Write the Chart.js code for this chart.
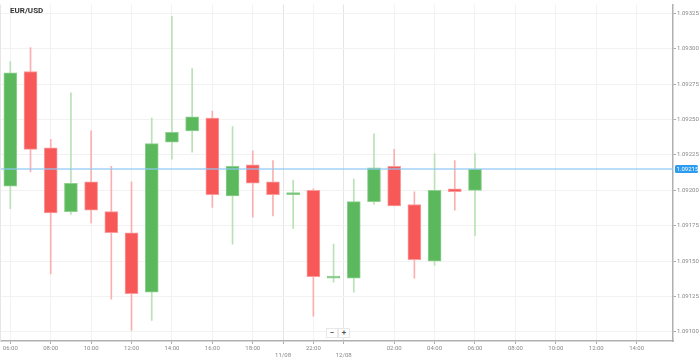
<!DOCTYPE html>
<html><head><meta charset="utf-8">
<script src="https://cdn.jsdelivr.net/npm/chart.js@4.4.1/dist/chart.umd.min.js"></script>
<style>
html,body{margin:0;padding:0;background:#fff;}
#wrap{position:relative;width:699px;height:360px;overflow:hidden;}
#title{position:absolute;left:10px;top:6px;font:bold 8px Roboto,sans-serif;color:#333;}
.zb{position:absolute;top:328px;width:10px;height:8px;background:#fff;border:1px solid #e8e8e8;font:bold 8px/8px Roboto,sans-serif;color:#555;text-align:center;}
</style></head><body>
<div id="wrap"><canvas id="c" width="699" height="360"></canvas><div id="title">EUR/USD</div><div class="zb" style="left:326px">−</div><div class="zb" style="left:338px">+</div></div>
<script>
// Hourly candles (index positions along the time axis)
const candleIndex = [0,1,2,3,4,5,6,7,8,9,10,11,12,13,14,15,16,17,18,19,20,21,22,23];
const opens  = [1.09203,1.09284,1.09230,1.09185,1.09206,1.09185,1.09170,1.09128,1.09234,1.09242,1.09251,1.09196,1.09218,1.09206,1.09197,1.09200,1.09138,1.09138,1.09192,1.09217,1.09190,1.09150,1.09201,1.09200];
const highs  = [1.09291,1.09301,1.09236,1.09269,1.09242,1.09217,1.09206,1.09251,1.09323,1.09286,1.09256,1.09245,1.09228,1.09221,1.09207,1.09201,1.09162,1.09208,1.09240,1.09229,1.09199,1.09226,1.09221,1.09226];
const lows   = [1.09187,1.09213,1.09141,1.09183,1.09177,1.09123,1.09101,1.09108,1.09222,1.09227,1.09188,1.09162,1.09181,1.09182,1.09173,1.09111,1.09135,1.09128,1.09190,1.09189,1.09138,1.09147,1.09186,1.09168];
const closes = [1.09283,1.09229,1.09184,1.09205,1.09186,1.09170,1.09127,1.09233,1.09241,1.09252,1.09197,1.09217,1.09205,1.09197,1.09198,1.09139,1.09139,1.09192,1.09216,1.09189,1.09151,1.09200,1.09199,1.09215];
const currentPrice = 1.09215;

// Axis ticks
const xTickPos    = [0,2,4,6,8,10,12,13.5,15,16.5,19,21,23,25,27,29,31];
const xTickLabels = ['06:00','08:00','10:00','12:00','14:00','16:00','18:00','11/08','22:00','12/08','02:00','04:00','06:00','08:00','10:00','12:00','14:00'];
const yTicks = [1.09100,1.09125,1.09150,1.09175,1.09200,1.09225,1.09250,1.09275,1.09300,1.09325];

const UP = '#5cb85c', DOWN = '#f75959';
const UP_B = '#8fd08f', DOWN_B = '#fb9a9a';
const UP_W = '#b9e2b6', DOWN_W = '#fab0b0';
const isUp = i => closes[i] >= opens[i];

const bodies = candleIndex.map(i => ({x: i, y: [opens[i], closes[i]]}));
const wicks  = candleIndex.map(i => ({x: i, y: [lows[i], highs[i]]}));

const pricePlugin = {
  id: 'price',
  afterDatasetsDraw(chart) {
    const {ctx, chartArea, scales} = chart;
    const y = scales.y.getPixelForValue(currentPrice);
    ctx.save();
    ctx.strokeStyle = 'rgba(140,200,245,0.8)';
    ctx.lineWidth = 1.5;
    ctx.beginPath(); ctx.moveTo(chartArea.left, y); ctx.lineTo(chartArea.right, y); ctx.stroke();
    ctx.restore();
  },
  afterDraw(chart) {
    const {ctx, chartArea, scales} = chart;
    const y = scales.y.getPixelForValue(currentPrice);
    ctx.save();
    ctx.fillStyle = '#2d9cf0';
    const x0 = chartArea.right + 2, w = 23, h = 8;
    ctx.beginPath();
    if (ctx.roundRect) ctx.roundRect(x0, y - h/2, w, h, 1.5); else ctx.rect(x0, y - h/2, w, h);
    ctx.fill();
    ctx.fillStyle = '#fff';
    ctx.font = '6px Roboto';
    ctx.textBaseline = 'middle';
    ctx.textAlign = 'left';
    ctx.fillText(currentPrice.toFixed(5), x0 + 1.5, y + 0.5);
    // left border of plot
    ctx.strokeStyle = '#e6e6e6';
    ctx.lineWidth = 1;
    ctx.beginPath(); ctx.moveTo(chartArea.left + 0.5, chartArea.top); ctx.lineTo(chartArea.left + 0.5, chartArea.bottom); ctx.stroke();
    ctx.restore();
  }
};

new Chart(document.getElementById('c'), {
  type: 'bar',
  data: {
    datasets: [
      { label: 'body', data: bodies, grouped: false, barThickness: 13, minBarLength: 2,
        backgroundColor: candleIndex.map(i => isUp(i) ? UP : DOWN),
        borderColor: candleIndex.map(i => isUp(i) ? UP_B : DOWN_B),
        borderWidth: 1, borderSkipped: false, order: 0 },
      { label: 'wick', data: wicks, grouped: false, barThickness: 1,
        backgroundColor: candleIndex.map(i => isUp(i) ? UP_W : DOWN_W),
        borderWidth: 0, order: 1 }
    ]
  },
  options: {
    responsive: false, animation: false, devicePixelRatio: 1,
    layout: { padding: 0 },
    plugins: { legend: { display: false }, tooltip: { enabled: false } },
    scales: {
      x: {
        type: 'linear', min: -0.51, max: 32.8, offset: false,
        afterBuildTicks: s => { s.ticks = xTickPos.map(v => ({ value: v })); },
        afterFit: s => { s.height = 19; },
        ticks: {
          autoSkip: false, maxRotation: 0, minRotation: 0, padding: 1, color: '#888',
          font: { size: 6, family: 'Roboto' },
          callback: (v, i) => xTickLabels[i].includes('/') ? ['', xTickLabels[i]] : xTickLabels[i]
        },
        grid: {
          offset: false,
          color: c => (xTickLabels[c.index] || '').includes('/') ? '#e4e4e4' : '#f2f2f2',
          tickColor: '#aaa', tickLength: 3
        },
        border: { color: '#b0b0b0', width: 1.5 }
      },
      y: {
        position: 'right', min: 1.090935, max: 1.093313,
        afterBuildTicks: s => { s.ticks = yTicks.map(v => ({ value: v })); },
        afterFit: s => { s.width = 26; },
        ticks: { padding: 1, color: '#888', font: { size: 6, family: 'Roboto' }, callback: v => v.toFixed(5) },
        grid: { color: '#f2f2f2', tickColor: '#aaa', tickLength: 3 },
        border: { color: '#b0b0b0', width: 1.5 }
      }
    }
  },
  plugins: [pricePlugin]
});
</script>
</body></html>
